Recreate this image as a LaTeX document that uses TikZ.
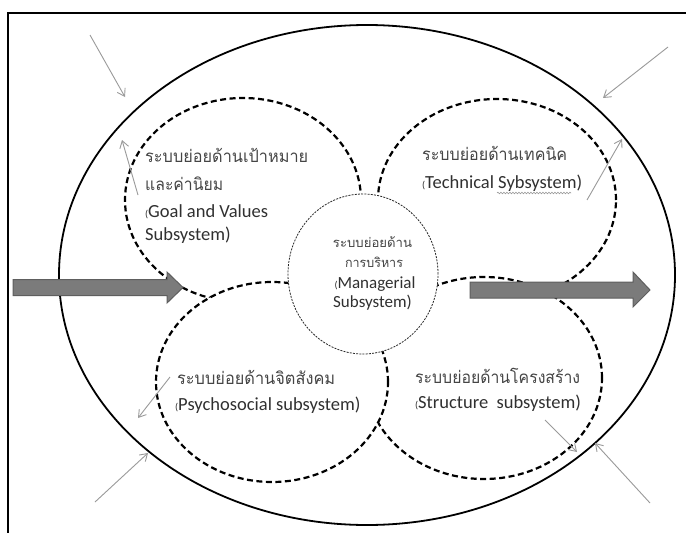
\documentclass[tikz,border=0pt]{standalone}
\usepackage{graphicx}
\usepackage{fontspec}
\setmainfont{Carlito}
\newfontfamily\thaifont[Script=Thai]{Loma}
\usetikzlibrary{arrows.meta,shapes.geometric,decorations.pathmorphing}

\definecolor{thingray}{HTML}{9A9A9A}
\definecolor{bigarrow}{HTML}{7B7B7B}
\definecolor{bigarrowline}{HTML}{5E5E5E}
\definecolor{txt}{HTML}{303030}
\definecolor{thtxt}{HTML}{454545}

% a Thai line stretched to a given width
\newcommand{\thline}[2]{\resizebox{#1}{\height}{#2}}
% small opening parenthesis
\newcommand{\lp}{{\fontsize{10}{12}\selectfont(}}

\tikzset{
  subsys/.style={ellipse, draw=black, fill=white, line width=2.2pt,
    dash pattern=on 6pt off 3.5pt, inner sep=0pt},
  core/.style={ellipse, draw=black!85, fill=white, line width=0.8pt,
    dash pattern=on 2pt off 1.2pt, inner sep=0pt},
  envline/.style={draw=thingray, line width=0.9pt,
    -{Straight Barb[length=7pt,width=9pt,line width=0.9pt]}},
  flow/.style={fill=bigarrow, draw=bigarrowline, line width=1pt},
  label/.style={inner sep=0pt, anchor=base west},
  th/.style={label, text=thtxt, font=\thaifont\fontsize{17}{20}\selectfont},
  en/.style={label, text=txt, font=\fontsize{18.5}{22}\selectfont},
  ths/.style={th, anchor=base, font=\thaifont\fontsize{13}{16}\selectfont},
  ens/.style={en, anchor=base, font=\fontsize{17}{20}\selectfont},
}

\begin{document}
\begin{tikzpicture}[x=1pt, y=-1pt]
\useasboundingbox (0,0) rectangle (686,533);
\fill[white] (0,0) rectangle (686,533);

% frame (top and left edges)
\draw[line width=1.6pt] (8,533) -- (8,13) -- (686,13);

% the system boundary
\node[ellipse, draw=black, line width=1.8pt, minimum width=616pt,
  minimum height=500pt, inner sep=0pt] (sys) at (367,275) {};

% the four subsystems, later ones lie on top
\node[subsys, minimum width=238pt, minimum height=202pt] (tech)   at (497,200) {};
\node[subsys, minimum width=236pt, minimum height=204pt] (goal)   at (243,200) {};
\node[subsys, minimum width=236pt, minimum height=202pt] (struct) at (484,378) {};
\node[subsys, minimum width=232pt, minimum height=200pt] (psych)  at (272,382) {};

% the managerial core
\node[core, minimum width=150pt, minimum height=160pt] (mgr) at (363,274) {};

% input and output flows
\fill[flow] (13,279.5) -- (167,279.5) -- (167,272) -- (183,287.5) -- (167,303)
  -- (167,295.5) -- (13,295.5) -- cycle;
\fill[flow] (470,282) -- (633,282) -- (633,272) -- (650,290) -- (633,307)
  -- (633,298) -- (470,298) -- cycle;

% goal and values
\node[th] (goalth1) at (145,162) {\thline{163pt}{ระบบย่อยด้านเป้าหมาย}};
\node[th] (goalth2) at (145,190) {\thline{78pt}{และค่านิยม}};
\node[en] (goalen1) at (145,217) {\lp Goal and Values};
\node[en] (goalen2) at (145,240) {Subsystem)};

% technical
\node[th] (techth) at (422,160) {\thline{145pt}{ระบบย่อยด้านเทคนิค}};
\node[en] (techen) at (422,188) {\lp Technical Sybsystem)};

% managerial
\node[ths] (mgrth1) at (372.5,247) {\thline{79pt}{ระบบย่อยด้าน}};
\node[ths] (mgrth2) at (374,267) {\thline{58pt}{การบริหาร}};
\node[ens] (mgren1) at (375,288) {\lp Managerial};
\node[ens] (mgren2) at (372.5,307) {Subsystem)};

% psychosocial
\node[th] (psychth) at (177,384) {\thline{158pt}{ระบบย่อยด้านจิตสังคม}};
\node[en] (psychen) at (175,410) {\lp Psychosocial subsystem)};

% structure
\node[th] (structth) at (415,383) {\thline{165pt}{ระบบย่อยด้านโครงสร้าง}};
\node[en] (structen) at (415,408) {\lp Structure\ \ subsystem)};

% spell-check squiggle under the misspelt word
\draw[draw=black!40, line width=0.6pt, decorate,
  decoration={snake, amplitude=0.8pt, segment length=3pt}]
  (497,193) -- (571,193);

% exchanges with the environment
\coordinate (e1s) at (90,35);   \coordinate (e1e) at (125,97);
\coordinate (e2s) at (668,47);  \coordinate (e2e) at (603,98);
\coordinate (e3s) at (587,200); \coordinate (e3e) at (622,139);
\coordinate (e4s) at (138,195); \coordinate (e4e) at (122,140);
\coordinate (e5s) at (170,377); \coordinate (e5e) at (138,418);
\coordinate (e6s) at (95,502);  \coordinate (e6e) at (148,453);
\coordinate (e7s) at (545,420); \coordinate (e7e) at (577,452);
\coordinate (e8s) at (650,503); \coordinate (e8e) at (595,443);
\foreach \i in {1,...,8} \draw[envline] (e\i s) -- (e\i e);
\end{tikzpicture}
\end{document}
